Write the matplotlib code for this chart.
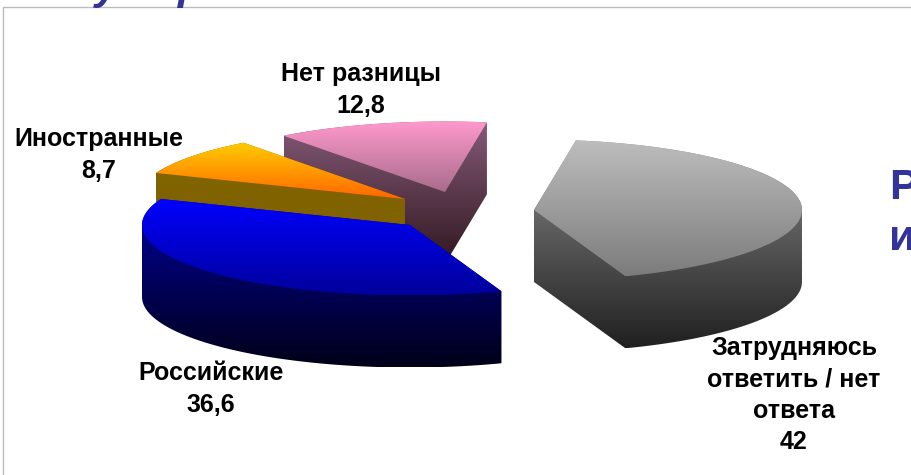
import numpy as np
import matplotlib
matplotlib.use("Agg")
import matplotlib.pyplot as plt
from matplotlib.patches import Polygon

plt.rcParams['font.family'] = ['Liberation Sans', 'DejaVu Sans']

# data, in the order the slices go round clockwise
labels = ["Затрудняюсь\nответить / нет\nответа", "Российские", "Иностранные", "Нет разницы"]
values = [42, 36.6, 8.7, 12.8]

# layout, in pixels of the 912x475 picture
apex = [(534, 210), (410, 225), (405, 199), (445, 192)]
label_pos = [(794, 395), (211, 389), (99, 155), (361, 90)]
top_colors = [("#bdbdbd", "#7c7c7c"), ("#0000ff", "#00009c"), ("#ffcc00", "#ff6600"), ("#ff99cc", "#a86c8c")]
side_colors = [("#8a8a8a", "#202020"), ("#0000a0", "#000018"), ("#806600", "#806000"), ("#855a78", "#301820")]
draw_order = [3, 2, 0, 1]
rx = 268
ry = 70.5
depth = 72
start_angle = 81

fig = plt.figure(figsize=(9.12, 4.75), dpi=100)
ax = fig.add_axes([0, 0, 1, 1])


def gradient(pts, c1, c2):
    pts = np.array(pts)
    poly = Polygon(pts, closed=True, fc="none", ec="none")
    ax.add_patch(poly)
    rgb = np.linspace(matplotlib.colors.to_rgb(c1), matplotlib.colors.to_rgb(c2), 128)[:, None, :]
    ext = [pts[:, 0].min(), pts[:, 0].max(), pts[:, 1].max(), pts[:, 1].min()]
    im = ax.imshow(rgb, extent=ext, aspect="auto", interpolation="bilinear", origin="upper")
    im.set_clip_path(poly)


def hull(pts):
    # monotone chain, a slice under 180 degrees pushed down stays convex
    pts = sorted(map(tuple, pts))
    def half(seq):
        out = []
        for p in seq:
            while len(out) > 1 and ((out[-1][0] - out[-2][0]) * (p[1] - out[-2][1])
                                    - (out[-1][1] - out[-2][1]) * (p[0] - out[-2][0])) <= 0:
                out.pop()
            out.append(p)
        return out[:-1]
    return half(pts) + half(pts[::-1])


fractions = np.array(values) / sum(values)
ends = start_angle - np.cumsum(fractions) * 360
starts = ends + fractions * 360

for i in draw_order:
    cx, cy = apex[i]
    t = np.radians(np.linspace(starts[i], ends[i], 80))
    arc = np.column_stack([cx + rx * np.cos(t), cy - ry * np.sin(t)])
    top = np.vstack([[cx, cy], arc])
    bottom = top + [0, depth]

    gradient(hull(np.vstack([top, bottom])), side_colors[i][0], side_colors[i][1])
    gradient(top, top_colors[i][0], top_colors[i][1])

    txt = labels[i] + "\n" + ("%g" % values[i]).replace(".", ",")
    ax.text(label_pos[i][0], label_pos[i][1], txt, ha="center", va="center",
            fontsize=18, fontweight="bold", color="black", linespacing=1.4)

# frame of the slide object
ax.plot([3, 3, 912], [475, 7, 7], color="#bdbdbd", lw=1)

# parts of the slide text around the chart, cut by the picture edge
ax.text(889, 199, "Р", fontsize=31, fontweight="bold", color="#333399", va="baseline", clip_on=True)
ax.text(889, 250, "и", fontsize=31, fontweight="bold", color="#333399", va="baseline", clip_on=True)
ax.text(95, -1, "у", fontsize=31, fontweight="bold", style="italic", color="#333399", va="baseline", clip_on=True)
ax.text(178, -1, "р", fontsize=31, fontweight="bold", style="italic", color="#333399", va="baseline", clip_on=True)

ax.set_xlim(0, 912)
ax.set_ylim(475, 0)
ax.axis("off")
fig.savefig("out.png", dpi=100, facecolor="white")
